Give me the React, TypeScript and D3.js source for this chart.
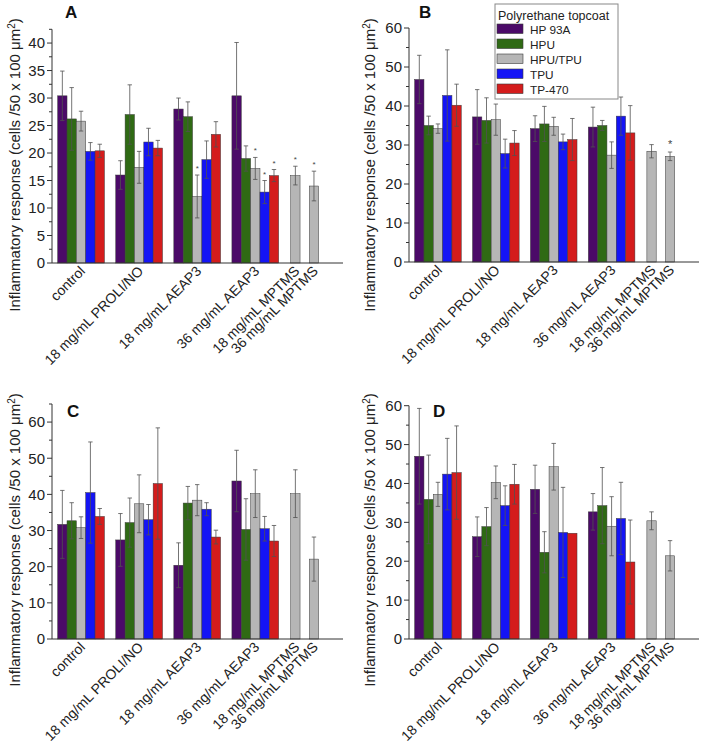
import React from "react";
import * as d3 from "d3";

const categories = ["control", "18 mg/mL PROLI/NO", "18 mg/mL AEAP3", "36 mg/mL AEAP3", "18 mg/mL MPTMS", "36 mg/mL MPTMS"];
const categoryPos = [1, 2, 3, 4, 4.69, 5.01];
const seriesNames = ["HP 93A", "HPU", "HPU/TPU", "TPU", "TP-470"];
const seriesColors = ["#4b0a68", "#2f6a14", "#b6b6b6", "#1414f5", "#d41c1c"];

// Panel A
const aHP93A = [30.4, 16.0, 28.0, 30.4, null, null];
const aHP93AErr = [4.5, 2.6, 2.0, 9.7, null, null];
const aHPU = [26.2, 27.0, 26.6, 19.0, null, null];
const aHPUErr = [5.7, 5.4, 2.7, 2.3, null, null];
const aHPUTPU = [25.8, 17.4, 12.1, 17.2, 15.9, 14.0];
const aHPUTPUErr = [1.8, 2.9, 3.9, 2.0, 1.7, 2.7];
const aTPU = [20.3, 22.0, 18.8, 12.9, null, null];
const aTPUErr = [1.6, 2.5, 3.4, 2.1, null, null];
const aTP470 = [20.4, 20.9, 23.4, 15.9, null, null];
const aTP470Err = [1.2, 1.4, 2.3, 1.1, null, null];
const aStars = [[2, 2], [3, 2], [3, 3], [3, 4], [4, 2], [5, 2]];

// Panel B
const bHP93A = [46.8, 37.2, 34.2, 34.6, null, null];
const bHP93AErr = [6.2, 7.0, 3.3, 5.1, null, null];
const bHPU = [35.0, 36.3, 35.4, 35.0, null, null];
const bHPUErr = [2.4, 5.8, 4.5, 1.3, null, null];
const bHPUTPU = [34.2, 36.5, 34.8, 27.4, 28.4, 27.1];
const bHPUTPUErr = [1.2, 4.0, 2.3, 3.4, 1.7, 1.1];
const bTPU = [42.7, 27.8, 30.8, 37.4, null, null];
const bTPUErr = [11.7, 3.7, 2.0, 4.9, null, null];
const bTP470 = [40.2, 30.5, 31.4, 33.1, null, null];
const bTP470Err = [5.4, 3.2, 5.4, 7.0, null, null];
const bStars = [[5, 2]];

// Panel C
const cHP93A = [31.7, 27.4, 20.4, 43.7, null, null];
const cHP93AErr = [9.4, 7.3, 6.2, 8.5, null, null];
const cHPU = [32.7, 32.2, 37.6, 30.3, null, null];
const cHPUErr = [5.0, 6.8, 4.6, 8.5, null, null];
const cHPUTPU = [30.8, 37.4, 38.4, 40.2, 40.2, 22.1];
const cHPUTPUErr = [3.0, 8.0, 4.3, 6.6, 6.6, 6.1];
const cTPU = [40.5, 33.0, 35.9, 30.5, null, null];
const cTPUErr = [14.0, 4.2, 1.8, 3.4, null, null];
const cTP470 = [33.9, 43.0, 28.2, 27.1, null, null];
const cTP470Err = [2.2, 15.4, 1.9, 4.3, null, null];
const cStars: number[][] = [];

// Panel D
const dHP93A = [47.0, 26.3, 38.5, 32.7, null, null];
const dHP93AErr = [12.3, 5.1, 6.2, 4.7, null, null];
const dHPU = [35.9, 28.9, 22.3, 34.3, null, null];
const dHPUErr = [11.4, 4.9, 5.3, 9.8, null, null];
const dHPUTPU = [37.2, 40.3, 44.3, 29.0, 30.4, 21.4];
const dHPUTPUErr = [3.1, 4.2, 6.0, 7.6, 2.3, 3.9];
const dTPU = [42.4, 34.3, 27.4, 31.0, null, null];
const dTPUErr = [9.2, 5.1, 11.6, 9.3, null, null];
const dTP470 = [42.8, 39.8, 27.2, 19.8, null, null];
const dTP470Err = [12.0, 5.1, 0, 10.8, null, null];
const dStars: number[][] = [];

type Panel = {
  letter: string;
  values: (number | null)[][];
  errs: (number | null)[][];
  stars: number[][];
  left: number; right: number; top: number; bottom: number;
  yMax: number; major: number; minor: number;
  letterX: number; letterY: number;
  labelX: number; labelY: number;
  starSize: number;
};

const panels: Panel[] = [
  { letter: "A", values: [aHP93A, aHPU, aHPUTPU, aTPU, aTP470], errs: [aHP93AErr, aHPUErr, aHPUTPUErr, aTPUErr, aTP470Err], stars: aStars,
    left: 52, right: 343, top: 29.3, bottom: 263, yMax: 42.5, major: 5, minor: 2.5, letterX: 65, letterY: 18, labelX: 15, labelY: 165, starSize: 8 },
  { letter: "B", values: [bHP93A, bHPU, bHPUTPU, bTPU, bTP470], errs: [bHP93AErr, bHPUErr, bHPUTPUErr, bTPUErr, bTP470Err], stars: bStars,
    left: 409, right: 699, top: 28, bottom: 262, yMax: 60, major: 10, minor: 5, letterX: 419, letterY: 18, labelX: 370, labelY: 165, starSize: 11 },
  { letter: "C", values: [cHP93A, cHPU, cHPUTPU, cTPU, cTP470], errs: [cHP93AErr, cHPUErr, cHPUTPUErr, cTPUErr, cTP470Err], stars: cStars,
    left: 52, right: 343, top: 404, bottom: 639, yMax: 65, major: 10, minor: 5, letterX: 67, letterY: 417, labelX: 15, labelY: 540, starSize: 8 },
  { letter: "D", values: [dHP93A, dHPU, dHPUTPU, dTPU, dTP470], errs: [dHP93AErr, dHPUErr, dHPUTPUErr, dTPUErr, dTP470Err], stars: dStars,
    left: 409, right: 699, top: 405.7, bottom: 639, yMax: 60, major: 10, minor: 5, letterX: 433, letterY: 417, labelX: 370, labelY: 540, starSize: 8 },
];

const FONT = "'Liberation Sans', Arial, sans-serif";
const BAR_W = 0.161; // in category units

function PanelView({ p }: { p: Panel }) {
  const x = d3.scaleLinear().domain([0.5, 5.51]).range([p.left, p.right]);
  const y = d3.scaleLinear().domain([0, p.yMax]).range([p.bottom, p.top]);
  const majors = d3.range(0, p.yMax + 0.001, p.major);
  const minors = d3.range(0, p.yMax + 0.001, p.minor).filter((v) => Math.abs(v / p.major - Math.round(v / p.major)) > 1e-6);
  const bw = x(1 + BAR_W) - x(1);
  const bars: React.ReactNode[] = [];
  const errs: React.ReactNode[] = [];
  categories.forEach((_, ci) => {
    const single = ci >= 4;
    p.values.forEach((vals, si) => {
      const v = vals[ci];
      if (v == null) return;
      const cx = single ? x(categoryPos[ci]) : x(categoryPos[ci] + (si - 2) * BAR_W);
      const e = p.errs[si][ci] ?? 0;
      bars.push(
        <rect key={`b${ci}-${si}`} x={cx - bw / 2} y={y(v)} width={bw} height={y(0) - y(v)}
          fill={seriesColors[si]} stroke="#3a3a3a" strokeWidth={0.5} />
      );
      if (e > 0) {
        const y1 = y(v + e), y2 = y(v - e);
        errs.push(
          <g key={`e${ci}-${si}`} stroke="#505050" strokeWidth={0.8}>
            <line x1={cx} x2={cx} y1={y1} y2={y2} />
            <line x1={cx - 2.2} x2={cx + 2.2} y1={y1} y2={y1} />
            <line x1={cx - 2.2} x2={cx + 2.2} y1={y2} y2={y2} />
          </g>
        );
      }
    });
  });
  const stars = p.stars.map(([ci, si], i) => {
    const single = ci >= 4;
    const cx = single ? x(categoryPos[ci]) : x(categoryPos[ci] + (si - 2) * BAR_W);
    const v = (p.values[si][ci] ?? 0) + (p.errs[si][ci] ?? 0);
    return (
      <text key={`s${i}`} x={cx} y={y(v) - 4} textAnchor="middle" fontSize={p.starSize} fontFamily={FONT} fill="#444">*</text>
    );
  });
  return (
    <g>
      {bars}
      {errs}
      {stars}
      {/* axes */}
      <line x1={p.left} x2={p.left} y1={p.top} y2={p.bottom} stroke="#333" strokeWidth={1} />
      <line x1={p.left} x2={p.right} y1={p.bottom} y2={p.bottom} stroke="#333" strokeWidth={1} />
      {majors.map((v) => (
        <g key={`t${v}`}>
          <line x1={p.left - 5} x2={p.left} y1={y(v)} y2={y(v)} stroke="#333" strokeWidth={1} />
          <text x={p.left - 7} y={y(v)} dy="0.36em" textAnchor="end" fontSize={15} fontFamily={FONT} fill="#222">{v}</text>
        </g>
      ))}
      {minors.map((v) => (
        <line key={`m${v}`} x1={p.left - 3} x2={p.left} y1={y(v)} y2={y(v)} stroke="#333" strokeWidth={1} />
      ))}
      {categories.map((c, ci) => {
        const tx = x(categoryPos[ci]) + 5;
        const ty = p.bottom + 9;
        return (
          <text key={`c${ci}`} x={tx} y={ty} transform={`rotate(-45 ${tx} ${ty})`} textAnchor="end"
            fontSize={14} fontFamily={FONT} fill="#222">{c}</text>
        );
      })}
      <text x={p.letterX} y={p.letterY} fontSize={17} fontWeight="bold" fontFamily={FONT} fill="#111">{p.letter}</text>
      <text x={p.labelX} y={p.labelY} transform={`rotate(-90 ${p.labelX} ${p.labelY})`} textAnchor="middle" dy="0.35em"
        fontSize={15} fontFamily={FONT} fill="#222">
        Inflammatory response (cells /50 x 100 μm<tspan dy="-5" fontSize={10}>2</tspan><tspan dy="5">)</tspan>
      </text>
    </g>
  );
}

function Legend() {
  const lx = 495, ly = 4;
  return (
    <g fontFamily={FONT}>
      <rect x={lx} y={ly} width={123} height={95} fill="#fff" stroke="#888" strokeWidth={1} />
      <text x={lx + 3} y={ly + 16} fontSize={12.5} fill="#222">Polyrethane topcoat</text>
      {seriesNames.map((s, i) => (
        <g key={s}>
          <rect x={lx + 2} y={ly + 20 + i * 15} width={26} height={9.5} fill={seriesColors[i]} stroke="#3a3a3a" strokeWidth={0.6} />
          <text x={lx + 35} y={ly + 20 + i * 15 + 9.5} fontSize={11.8} fill="#222">{s}</text>
        </g>
      ))}
    </g>
  );
}

export default function App() {
  return (
    <svg width={703} height={750} style={{ display: "block", position: "absolute", left: 0, top: 0, background: "#fff" }}>
      <rect width={703} height={750} fill="#fff" />
      {panels.map((p) => <PanelView key={p.letter} p={p} />)}
      <Legend />
    </svg>
  );
}
